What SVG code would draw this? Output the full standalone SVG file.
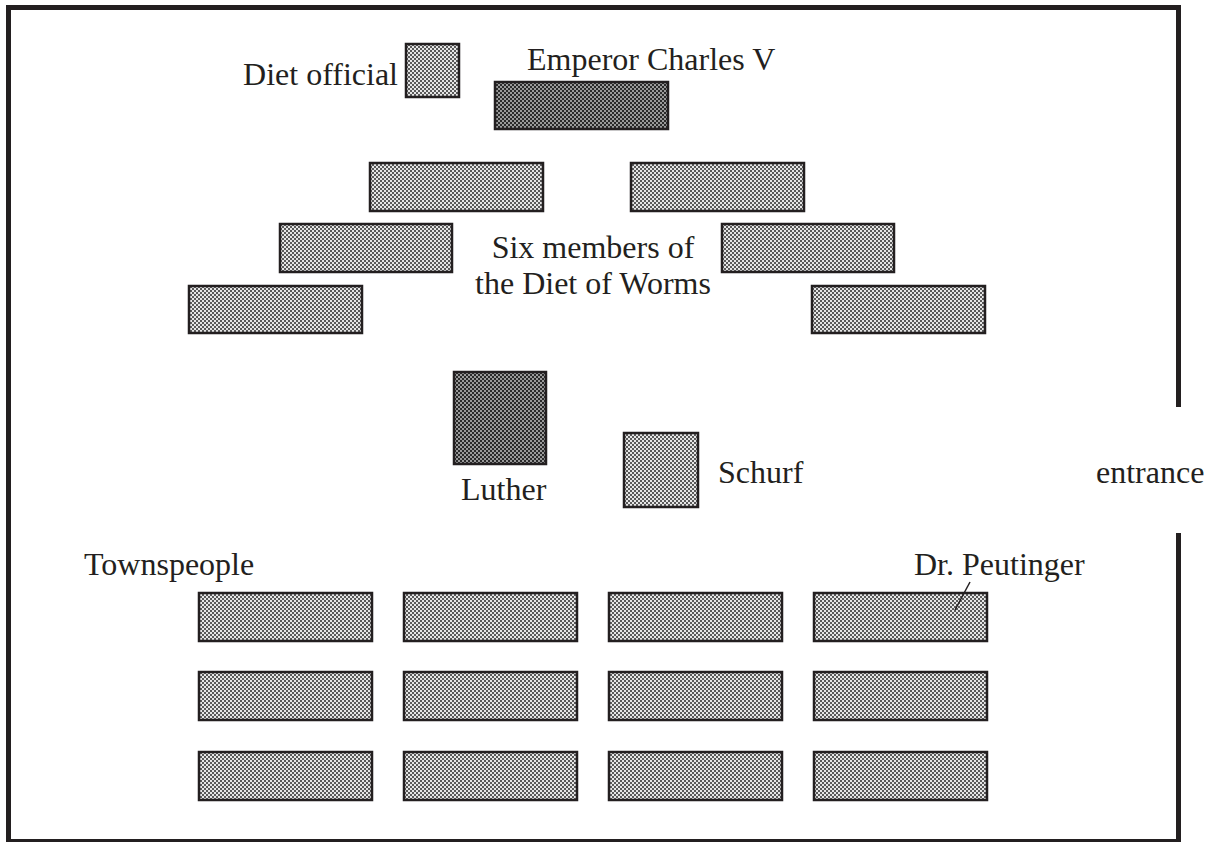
<svg xmlns="http://www.w3.org/2000/svg" width="1212" height="842" viewBox="0 0 1212 842">
<defs>
<pattern id="light" width="4" height="4" patternUnits="userSpaceOnUse">
<rect width="4" height="4" fill="#e6e6e6"/>
<rect x="0" y="0" width="2" height="2" fill="#5a5a5a"/>
<rect x="2" y="2" width="2" height="2" fill="#5a5a5a"/>
</pattern>
<pattern id="dark" width="4" height="4" patternUnits="userSpaceOnUse">
<rect width="4" height="4" fill="#9a9a9a"/>
<rect x="0" y="0" width="2" height="2" fill="#2a2a2a"/>
<rect x="2" y="2" width="2" height="2" fill="#2a2a2a"/>
</pattern>
</defs>
<style>
.lt{fill:url(#light);stroke:#231f20;stroke-width:2.5}
.dk{fill:url(#dark);stroke:#231f20;stroke-width:2.5}
.wall{fill:none;stroke:#231f20;stroke-width:5}
text{font-family:"Liberation Serif","Times New Roman",serif;font-size:32px;fill:#231f20}
</style>
<rect width="1212" height="842" fill="#fff"/>
<g id="walls">
<polyline class="wall" points="1178.5,407 1178.5,7.5 8.5,7.5 8.5,841.5 1178.5,841.5 1178.5,533"/>
</g>
<g id="diet-official"><rect class="lt" x="406" y="44" width="53" height="53"/><text x="398" y="85" text-anchor="end">Diet official</text></g>
<g id="emperor"><rect class="dk" x="495" y="82" width="173" height="47"/><text x="527" y="70">Emperor Charles V</text></g>
<g id="diet-members">
<rect class="lt" x="370" y="163" width="173" height="48"/>
<rect class="lt" x="631" y="163" width="173" height="48"/>
<rect class="lt" x="280" y="224" width="172" height="48"/>
<rect class="lt" x="722" y="224" width="172" height="48"/>
<rect class="lt" x="189" y="286" width="173" height="47"/>
<rect class="lt" x="812" y="286" width="173" height="47"/>
<text x="593" y="258" text-anchor="middle">Six members of</text>
<text x="593" y="294" text-anchor="middle">the Diet of Worms</text>
</g>
<g id="luther"><rect class="dk" x="454" y="372" width="92" height="92"/><text x="461" y="500">Luther</text></g>
<g id="schurf"><rect class="lt" x="624" y="433" width="74" height="74"/><text x="718" y="483">Schurf</text></g>
<g id="entrance"><text x="1096" y="483">entrance</text></g>
<g id="townspeople">
<text x="84" y="575">Townspeople</text>
<rect class="lt" x="199" y="593" width="173" height="48"/>
<rect class="lt" x="404" y="593" width="173" height="48"/>
<rect class="lt" x="609" y="593" width="173" height="48"/>
<rect class="lt" x="199" y="672" width="173" height="48"/>
<rect class="lt" x="404" y="672" width="173" height="48"/>
<rect class="lt" x="609" y="672" width="173" height="48"/>
<rect class="lt" x="814" y="672" width="173" height="48"/>
<rect class="lt" x="199" y="752" width="173" height="48"/>
<rect class="lt" x="404" y="752" width="173" height="48"/>
<rect class="lt" x="609" y="752" width="173" height="48"/>
<rect class="lt" x="814" y="752" width="173" height="48"/>
</g>
<g id="peutinger"><rect class="lt" x="814" y="593" width="173" height="48"/><text x="914" y="575">Dr. Peutinger</text></g>
<g id="connectors"><line x1="970" y1="582" x2="955" y2="610" stroke="#231f20" stroke-width="1.5"/></g>
</svg>
